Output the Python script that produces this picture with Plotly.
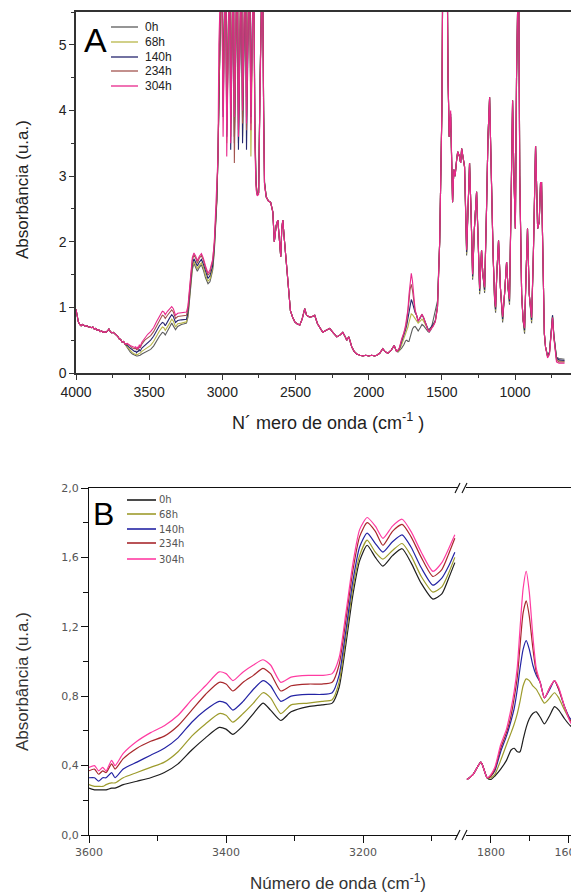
import plotly.graph_objects as go

# ---------------- DATA ----------------
series_labels = ["0h", "68h", "140h", "234h", "304h"]

# Region 1 (4000-3665 cm-1): all series coincide
wn_r1 = [4000, 3992, 3984, 3975, 3965, 3955, 3945, 3935, 3925, 3915, 3905, 3895, 3885, 3875, 3865,
         3855, 3845, 3835, 3825, 3815, 3805, 3795, 3785, 3775, 3765, 3755, 3745, 3735, 3725, 3715,
         3705, 3695, 3685, 3675, 3665]
abs_r1 = [0.97, 0.86, 0.78, 0.74, 0.72, 0.74, 0.72, 0.71, 0.72, 0.70, 0.70, 0.69, 0.70, 0.67, 0.68,
          0.65, 0.66, 0.63, 0.64, 0.62, 0.63, 0.62, 0.64, 0.67, 0.63, 0.61, 0.62, 0.60, 0.58, 0.56,
          0.52, 0.51, 0.47, 0.48, 0.44]

# Region 2 (3650-3038 cm-1)
wn_r2 = [3650, 3630, 3615, 3600, 3592, 3586, 3580, 3575, 3567, 3562, 3550, 3530, 3510, 3490, 3470,
         3450, 3430, 3410, 3400, 3390, 3375, 3360, 3346, 3335, 3320, 3305, 3280, 3260, 3245, 3235,
         3225, 3215, 3205, 3194, 3182, 3171, 3157, 3143, 3130, 3115, 3098, 3085, 3075, 3066, 3055,
         3045, 3038]
abs_r2_0h = [0.38, 0.32, 0.29, 0.27, 0.26, 0.26, 0.26, 0.26, 0.27, 0.27, 0.29, 0.31, 0.33, 0.36, 0.41,
             0.49, 0.56, 0.62, 0.61, 0.58, 0.63, 0.70, 0.76, 0.72, 0.66, 0.71, 0.74, 0.75, 0.76, 0.85,
             1.10, 1.38, 1.58, 1.67, 1.60, 1.55, 1.61, 1.65, 1.57, 1.45, 1.36, 1.39, 1.48, 1.57, 1.85,
             2.35, 2.60]
abs_r2_68h = [0.40, 0.34, 0.31, 0.29, 0.28, 0.28, 0.28, 0.29, 0.30, 0.30, 0.33, 0.36, 0.39, 0.42, 0.48,
              0.57, 0.64, 0.70, 0.69, 0.65, 0.70, 0.76, 0.82, 0.79, 0.70, 0.75, 0.76, 0.77, 0.78, 0.88,
              1.14, 1.42, 1.61, 1.70, 1.63, 1.59, 1.64, 1.68, 1.61, 1.49, 1.40, 1.43, 1.51, 1.60, 1.88,
              2.38, 2.62]
abs_r2_140h = [0.42, 0.38, 0.35, 0.33, 0.33, 0.31, 0.33, 0.33, 0.36, 0.33, 0.38, 0.42, 0.46, 0.50, 0.56,
               0.65, 0.72, 0.77, 0.76, 0.72, 0.77, 0.84, 0.89, 0.86, 0.77, 0.80, 0.81, 0.81, 0.82, 0.92,
               1.18, 1.46, 1.66, 1.74, 1.68, 1.63, 1.69, 1.73, 1.66, 1.54, 1.44, 1.48, 1.55, 1.63, 1.92,
               2.40, 2.64]
abs_r2_234h = [0.44, 0.41, 0.38, 0.37, 0.38, 0.35, 0.37, 0.36, 0.41, 0.38, 0.44, 0.50, 0.54, 0.57, 0.63,
               0.72, 0.81, 0.88, 0.87, 0.83, 0.88, 0.92, 0.96, 0.93, 0.83, 0.86, 0.87, 0.87, 0.88, 0.98,
               1.24, 1.52, 1.72, 1.80, 1.75, 1.67, 1.75, 1.79, 1.72, 1.60, 1.49, 1.53, 1.62, 1.71, 1.98,
               2.45, 2.66]
abs_r2_304h = [0.45, 0.42, 0.40, 0.39, 0.40, 0.37, 0.39, 0.37, 0.43, 0.40, 0.47, 0.54, 0.59, 0.63, 0.69,
               0.78, 0.86, 0.94, 0.93, 0.89, 0.94, 0.98, 1.01, 0.98, 0.88, 0.91, 0.92, 0.92, 0.93, 1.02,
               1.28, 1.56, 1.76, 1.83, 1.78, 1.71, 1.78, 1.82, 1.75, 1.63, 1.52, 1.57, 1.65, 1.73, 2.00,
               2.47, 2.68]

# Region 3 (3030-2712 cm-1): saturated C-H band (values above 5.5 run off the top)
wn_r3 = [3030, 3024, 3018, 3005, 2995, 2988, 2978, 2970, 2962, 2950, 2943, 2936, 2925, 2918, 2910,
         2898, 2890, 2882, 2870, 2862, 2855, 2842, 2835, 2828, 2815, 2805, 2798, 2786, 2778, 2770,
         2762, 2752, 2742, 2736, 2726, 2718, 2712]
abs_r3_0h = [3.3, 5.0, 6.5, 6.5, 4.6, 6.5, 6.5, 3.7, 6.5, 6.5, 3.8, 6.5, 6.5, 3.6, 6.5,
             6.5, 3.5, 6.5, 6.5, 3.9, 6.5, 6.5, 4.2, 6.5, 6.5, 4.0, 6.5, 6.5, 3.8, 2.9,
             2.72, 2.75, 4.5, 6.5, 6.5, 4.0, 2.9]
abs_r3_68h = [3.3, 5.0, 6.5, 6.5, 4.0, 6.5, 6.5, 3.5, 6.5, 6.5, 3.9, 6.5, 6.5, 3.7, 6.5,
              6.5, 3.8, 6.5, 6.5, 3.6, 6.5, 6.5, 3.9, 6.5, 6.5, 3.3, 6.5, 6.5, 3.6, 2.9,
              2.72, 2.75, 4.5, 6.5, 6.5, 4.0, 2.9]
abs_r3_140h = [3.3, 5.0, 6.5, 6.5, 3.9, 6.5, 6.5, 3.6, 6.5, 6.5, 3.4, 6.5, 6.5, 3.5, 6.5,
               6.5, 3.4, 6.5, 6.5, 3.5, 6.5, 6.5, 3.4, 6.5, 6.5, 3.9, 6.5, 6.5, 3.7, 2.9,
               2.72, 2.75, 4.5, 6.5, 6.5, 4.0, 2.9]
abs_r3_234h = [3.3, 5.0, 6.5, 6.5, 4.2, 6.5, 6.5, 3.9, 6.5, 6.5, 3.6, 6.5, 6.5, 3.2, 6.5,
               6.5, 3.7, 6.5, 6.5, 3.8, 6.5, 6.5, 3.7, 6.5, 6.5, 3.8, 6.5, 6.5, 3.9, 2.9,
               2.72, 2.75, 4.5, 6.5, 6.5, 4.0, 2.9]
abs_r3_304h = [3.3, 5.0, 6.5, 6.5, 3.6, 6.5, 6.5, 3.3, 6.5, 6.5, 3.5, 6.5, 6.5, 3.9, 6.5,
               6.5, 3.6, 6.5, 6.5, 4.0, 6.5, 6.5, 3.8, 6.5, 6.5, 3.7, 6.5, 6.5, 3.5, 2.8,
               2.70, 2.72, 4.3, 6.5, 6.5, 3.8, 2.85]

# Region 4 (2700-1810 cm-1): all series coincide
wn_r4 = [2700, 2685, 2670, 2655, 2645, 2632, 2621, 2610, 2601, 2594, 2587, 2575, 2560, 2545, 2535,
         2520, 2505, 2490, 2471, 2455, 2437, 2425, 2403, 2385, 2369, 2350, 2330, 2314, 2290, 2266,
         2245, 2218, 2195, 2177, 2160, 2150, 2136, 2125, 2116, 2100, 2082, 2060, 2040, 2020, 2000,
         1980, 1960, 1945, 1925, 1904, 1890, 1870, 1862, 1846, 1826, 1810]
abs_r4 = [2.68, 2.62, 2.60, 2.45, 2.00, 2.25, 2.33, 2.00, 1.77, 2.20, 2.33, 2.00, 1.55, 1.15, 0.95,
          0.85, 0.78, 0.75, 0.73, 0.82, 0.98, 0.88, 0.85, 0.86, 0.88, 0.75, 0.68, 0.62, 0.65, 0.68,
          0.62, 0.55, 0.58, 0.62, 0.55, 0.50, 0.55, 0.45, 0.40, 0.33, 0.29, 0.27, 0.26, 0.27, 0.26,
          0.27, 0.26, 0.27, 0.30, 0.37, 0.33, 0.30, 0.32, 0.35, 0.42, 0.33]

# Region 5 (1800-1515 cm-1): carbonyl band grows with time
wn_r5 = [1800, 1790, 1775, 1760, 1748, 1740, 1732, 1725, 1717, 1709, 1701, 1692, 1683, 1673, 1662,
         1648, 1636, 1625, 1610, 1595, 1587, 1575, 1560, 1545, 1530, 1515]
abs_r5_0h = [0.32, 0.34, 0.38, 0.43, 0.49, 0.50, 0.48, 0.48, 0.55, 0.62, 0.67, 0.70, 0.71, 0.68, 0.64,
             0.69, 0.74, 0.72, 0.67, 0.63, 0.62, 0.66, 0.80, 0.95, 1.10, 2.00]
abs_r5_68h = [0.33, 0.35, 0.43, 0.52, 0.59, 0.64, 0.70, 0.77, 0.86, 0.90, 0.89, 0.86, 0.84, 0.80, 0.76,
              0.79, 0.82, 0.79, 0.72, 0.66, 0.65, 0.68, 0.72, 0.78, 1.00, 2.00]
abs_r5_140h = [0.34, 0.37, 0.48, 0.57, 0.66, 0.73, 0.84, 0.96, 1.07, 1.12, 1.07, 0.98, 0.92, 0.88, 0.79,
               0.84, 0.89, 0.84, 0.74, 0.67, 0.66, 0.69, 0.74, 0.80, 1.02, 2.00]
abs_r5_234h = [0.34, 0.38, 0.50, 0.59, 0.69, 0.79, 0.91, 1.09, 1.28, 1.35, 1.26, 1.08, 0.94, 0.88, 0.79,
               0.85, 0.89, 0.84, 0.74, 0.66, 0.65, 0.68, 0.72, 0.79, 1.00, 2.00]
abs_r5_304h = [0.35, 0.39, 0.52, 0.61, 0.73, 0.83, 0.97, 1.19, 1.42, 1.52, 1.40, 1.15, 0.96, 0.88, 0.79,
               0.85, 0.89, 0.85, 0.74, 0.65, 0.63, 0.66, 0.71, 0.78, 1.00, 2.00]

# Region 6 (1500-662 cm-1): fingerprint region
wn_r6 = [1500, 1493, 1465, 1458, 1450, 1440, 1432, 1427, 1418, 1410, 1399, 1392, 1380, 1372, 1365,
         1355, 1345, 1331, 1320, 1311, 1300, 1290, 1278, 1263, 1252, 1242, 1235, 1229, 1220, 1208,
         1195, 1185, 1174, 1163, 1150, 1140, 1133, 1125, 1113, 1100, 1085, 1072, 1058, 1048, 1038,
         1028, 1017, 1008, 998, 990, 983, 976, 968, 955, 945, 935, 925, 915, 903, 887,
         875, 860, 852, 846, 835, 826, 819, 810, 800, 792, 778, 765, 752, 744, 735,
         725, 717, 700, 680, 662]
abs_r6_0h = [4.0, 6.5, 6.5, 4.5, 3.6, 3.9, 3.3, 2.6, 3.1, 3.0, 3.25, 3.37, 3.3, 3.2, 3.42,
             3.3, 3.14, 1.79, 2.6, 3.2, 2.4, 1.42, 2.2, 2.76, 2.0, 1.20, 1.6, 1.87, 1.5, 1.22,
             2.5, 3.6, 4.2, 3.0, 1.8, 1.1, 0.92, 1.5, 2.02, 1.3, 0.77, 1.2, 1.69, 1.3, 1.04,
             2.5, 4.15, 3.0, 2.2, 4.5, 6.5, 6.5, 3.0, 1.2, 0.8, 0.60, 1.5, 2.2, 1.2, 0.76,
             1.8, 3.46, 2.8, 2.2, 2.3, 2.9, 2.9, 1.5, 0.6, 0.40, 0.26, 0.32, 0.68, 0.88, 0.58,
             0.32, 0.24, 0.22, 0.21, 0.21]
abs_r6_68h = [4.0, 6.5, 6.5, 4.5, 3.6, 3.9, 3.3, 2.6, 3.1, 3.0, 3.25, 3.37, 3.3, 3.2, 3.42,
              3.3, 3.14, 1.82, 2.6, 3.2, 2.4, 1.45, 2.2, 2.76, 2.0, 1.23, 1.6, 1.87, 1.5, 1.25,
              2.5, 3.6, 4.2, 3.0, 1.8, 1.12, 0.95, 1.5, 2.02, 1.3, 0.80, 1.2, 1.69, 1.3, 1.07,
              2.5, 4.15, 3.0, 2.2, 4.5, 6.5, 6.5, 3.0, 1.2, 0.8, 0.63, 1.5, 2.2, 1.2, 0.79,
              1.8, 3.46, 2.8, 2.2, 2.3, 2.9, 2.9, 1.5, 0.6, 0.40, 0.25, 0.31, 0.66, 0.85, 0.56,
              0.31, 0.22, 0.19, 0.18, 0.18]
abs_r6_140h = [4.0, 6.5, 6.5, 4.5, 3.6, 3.95, 3.3, 2.6, 3.1, 3.0, 3.25, 3.37, 3.3, 3.2, 3.42,
               3.3, 3.14, 1.84, 2.6, 3.2, 2.4, 1.47, 2.2, 2.76, 2.0, 1.25, 1.6, 1.87, 1.5, 1.27,
               2.5, 3.6, 4.2, 3.0, 1.8, 1.13, 0.97, 1.5, 2.02, 1.3, 0.82, 1.2, 1.69, 1.3, 1.09,
               2.5, 4.15, 3.0, 2.2, 4.5, 6.5, 6.5, 3.0, 1.2, 0.8, 0.65, 1.5, 2.2, 1.2, 0.81,
               1.8, 3.46, 2.8, 2.2, 2.3, 2.9, 2.9, 1.5, 0.6, 0.40, 0.26, 0.31, 0.67, 0.88, 0.57,
               0.31, 0.23, 0.20, 0.19, 0.19]
abs_r6_234h = [4.0, 6.5, 6.5, 4.5, 3.6, 3.95, 3.3, 2.6, 3.1, 3.0, 3.25, 3.37, 3.3, 3.2, 3.42,
               3.3, 3.14, 1.87, 2.6, 3.2, 2.4, 1.50, 2.2, 2.76, 2.0, 1.28, 1.6, 1.87, 1.5, 1.30,
               2.5, 3.6, 4.2, 3.0, 1.8, 1.15, 1.00, 1.5, 2.02, 1.3, 0.85, 1.2, 1.69, 1.3, 1.12,
               2.5, 4.15, 3.0, 2.2, 4.5, 6.5, 6.5, 3.0, 1.2, 0.8, 0.68, 1.5, 2.2, 1.2, 0.84,
               1.8, 3.46, 2.8, 2.2, 2.3, 2.9, 2.9, 1.5, 0.6, 0.40, 0.25, 0.30, 0.65, 0.85, 0.55,
               0.30, 0.20, 0.17, 0.17, 0.17]
abs_r6_304h = [4.0, 6.5, 6.5, 4.5, 3.6, 4.0, 3.3, 2.6, 3.1, 3.0, 3.25, 3.37, 3.3, 3.2, 3.42,
               3.3, 3.14, 1.88, 2.6, 3.2, 2.4, 1.51, 2.2, 2.76, 2.0, 1.29, 1.6, 1.87, 1.5, 1.31,
               2.5, 3.6, 4.2, 3.0, 1.8, 1.15, 1.01, 1.5, 2.02, 1.3, 0.86, 1.2, 1.69, 1.3, 1.13,
               2.5, 4.15, 3.0, 2.2, 4.5, 6.5, 6.5, 3.0, 1.2, 0.8, 0.69, 1.5, 2.2, 1.2, 0.85,
               1.8, 3.46, 2.8, 2.2, 2.3, 2.9, 2.9, 1.5, 0.6, 0.40, 0.23, 0.28, 0.63, 0.84, 0.54,
               0.28, 0.17, 0.15, 0.15, 0.15]

# Axis ticks
a_xtick_vals = [4000, 3500, 3000, 2500, 2000, 1500, 1000]
a_xtick_text = ["4000", "3500", "3000", "2500", "2000", "1500", "1000"]
a_xminor_vals = [3750, 3250, 2750, 2250, 1750, 1250, 750]
a_ytick_vals = [0, 1, 2, 3, 4, 5]
a_ytick_text = ["0", "1", "2", "3", "4", "5"]
a_yminor_vals = [0.5, 1.5, 2.5, 3.5, 4.5, 5.5]

b_x1tick_vals = [3600, 3400, 3200]
b_x1tick_text = ["3600", "3400", "3200"]
b_x1minor_vals = [3500, 3300, 3100]
b_x2tick_vals = [1800, 1600]
b_x2tick_text = ["1800", "1600"]
b_x2minor_vals = [1700]
b_ytick_vals = [0.0, 0.4, 0.8, 1.2, 1.6, 2.0]
b_ytick_text = ["0,0", "0,4", "0,8", "1,2", "1,6", "2,0"]
b_yminor_vals = [0.2, 0.6, 1.0, 1.4, 1.8]

# ---------------- BUILD ----------------
# The page body keeps an 8 px margin, so the figure is sized to the visible area
# and every window position below is converted into figure-paper coordinates.
OFF = 8
W, H = 579 - OFF, 894 - OFF
def px(x): return (x - OFF) / W
def py(y): return 1 - (y - OFF) / H

r2 = {"0h": abs_r2_0h, "68h": abs_r2_68h, "140h": abs_r2_140h, "234h": abs_r2_234h, "304h": abs_r2_304h}
r3 = {"0h": abs_r3_0h, "68h": abs_r3_68h, "140h": abs_r3_140h, "234h": abs_r3_234h, "304h": abs_r3_304h}
r5 = {"0h": abs_r5_0h, "68h": abs_r5_68h, "140h": abs_r5_140h, "234h": abs_r5_234h, "304h": abs_r5_304h}
r6 = {"0h": abs_r6_0h, "68h": abs_r6_68h, "140h": abs_r6_140h, "234h": abs_r6_234h, "304h": abs_r6_304h}

wn_A = wn_r1 + wn_r2 + wn_r3 + wn_r4 + wn_r5 + wn_r6
spectra = {lab: abs_r1 + r2[lab] + r3[lab] + abs_r4 + r5[lab] + r6[lab] for lab in series_labels}

colors_A = {"0h": "#5c5c5c", "68h": "#b8b64a", "140h": "#26266e", "234h": "#a2544f", "304h": "#e8288c"}
colors_B = {"0h": "#1e1e1e", "68h": "#9d9b2c", "140h": "#2424a4", "234h": "#a8282c", "304h": "#ff3ca2"}

fig = go.Figure()

for lab in series_labels:
    fig.add_trace(go.Scatter(x=wn_A, y=spectra[lab], mode="lines", name=lab,
                             line=dict(color=colors_A[lab], width=1.1),
                             xaxis="x", yaxis="y", showlegend=False))

for lab in series_labels:
    seg1 = [(w, a) for w, a in zip(wn_A, spectra[lab]) if 3064 <= w <= 3600]
    seg2 = [(w, a) for w, a in zip(wn_A, spectra[lab]) if 1555 <= w <= 1862]
    fig.add_trace(go.Scatter(x=[p[0] for p in seg1], y=[p[1] for p in seg1], mode="lines", name=lab,
                             line=dict(color=colors_B[lab], width=1.2, shape="spline", smoothing=0.6),
                             xaxis="x2", yaxis="y2", showlegend=False))
    fig.add_trace(go.Scatter(x=[p[0] for p in seg2], y=[p[1] for p in seg2], mode="lines", name=lab,
                             line=dict(color=colors_B[lab], width=1.2, shape="spline", smoothing=0.6),
                             xaxis="x3", yaxis="y2", showlegend=False))

axA = dict(showgrid=False, zeroline=False, showline=True, linecolor="#333", linewidth=1.5,
           mirror=True, ticks="outside", ticklen=5, tickwidth=1.3, tickcolor="#333", automargin=False,
           tickfont=dict(family="Liberation Sans, Arial", size=14, color="#222"))
axB = dict(showgrid=False, zeroline=False, showline=True, linecolor="#111", linewidth=1.1,
           ticks="outside", ticklen=7, tickwidth=1.1, tickcolor="#111", automargin=False,
           ticklabeloverflow="allow",
           tickfont=dict(family="DejaVu Sans", size=11, color="#555"))

fig.update_layout(
    width=W, height=H, margin=dict(l=0, r=0, t=0, b=0, pad=0, autoexpand=False),
    paper_bgcolor="white", plot_bgcolor="white", showlegend=False,
    xaxis=dict(axA, domain=[px(76), px(578)], range=[4000, 570], anchor="y",
               tickmode="array", tickvals=a_xtick_vals, ticktext=a_xtick_text,
               minor=dict(tickmode="array", tickvals=a_xminor_vals, ticks="outside", ticklen=3, tickcolor="#333")),
    yaxis=dict(axA, domain=[py(373), py(12)], range=[0, 5.5], anchor="x",
               tickmode="array", tickvals=a_ytick_vals, ticktext=a_ytick_text,
               minor=dict(tickmode="array", tickvals=a_yminor_vals, ticks="outside", ticklen=3, tickcolor="#333")),
    xaxis2=dict(axB, domain=[px(89), px(461)], range=[3600, 3057], anchor="y2", mirror=True,
                tickmode="array", tickvals=b_x1tick_vals, ticktext=b_x1tick_text,
                minor=dict(tickmode="array", tickvals=b_x1minor_vals, ticks="outside", ticklen=5, tickcolor="#111")),
    xaxis3=dict(axB, domain=[px(461), 1.0], range=[1877.5, 1572.6], anchor="y2", mirror=True,
                tickmode="array", tickvals=b_x2tick_vals, ticktext=b_x2tick_text,
                minor=dict(tickmode="array", tickvals=b_x2minor_vals, ticks="outside", ticklen=5, tickcolor="#111")),
    yaxis2=dict(axB, domain=[py(835), py(488)], range=[0, 2.0], anchor="x2",
                tickmode="array", tickvals=b_ytick_vals, ticktext=b_ytick_text,
                minor=dict(tickmode="array", tickvals=b_yminor_vals, ticks="outside", ticklen=5, tickcolor="#111")),
)

annotations = [
    dict(text="A", x=px(95), y=py(40), font=dict(family="Liberation Sans, Arial", size=34, color="#000")),
    dict(text="B", x=px(103), y=py(514), font=dict(family="Liberation Sans, Arial", size=32, color="#000")),
    dict(text="Absorbância (u.a.)", x=px(22), y=py(190), textangle=-90,
         font=dict(family="Liberation Sans, Arial", size=17, color="#222")),
    dict(text="N´ mero de onda (cm<sup>-1</sup> )", x=px(328), y=py(422),
         font=dict(family="Liberation Sans, Arial", size=18, color="#222")),
    dict(text="Absorbância (u.a.)", x=px(22), y=py(682), textangle=-90,
         font=dict(family="Liberation Sans, Arial", size=17, color="#333")),
    dict(text="Número de onda (cm<sup>-1</sup>)", x=px(338), y=py(882),
         font=dict(family="Liberation Sans, Arial", size=17, color="#333")),
]

shapes = []
# manual legends (tight 15 px row spacing as in the reference)
legA_rows = [27, 42, 57, 71, 86]
legB_rows = [500, 514, 529, 543, 559]
for lab, ya, yb in zip(series_labels, legA_rows, legB_rows):
    shapes.append(dict(type="line", xref="paper", yref="paper", x0=px(111), x1=px(138), y0=py(ya), y1=py(ya),
                       line=dict(color=colors_A[lab], width=1.3)))
    annotations.append(dict(text=lab, x=px(143), y=py(ya), xanchor="left",
                            font=dict(family="Liberation Sans, Arial", size=12, color="#222")))
    shapes.append(dict(type="line", xref="paper", yref="paper", x0=px(127), x1=px(156), y0=py(yb), y1=py(yb),
                       line=dict(color=colors_B[lab], width=1.6)))
    annotations.append(dict(text=lab, x=px(157), y=py(yb), xanchor="left",
                            font=dict(family="DejaVu Sans", size=10, color="#555")))

for a in annotations:
    a.setdefault("xanchor", "center")
    a.update(xref="paper", yref="paper", showarrow=False, yanchor="middle")
fig.update_layout(annotations=annotations)

# axis-break marks
for yb in (488, 835):
    shapes.append(dict(type="rect", xref="paper", yref="paper", x0=px(458), x1=px(466),
                       y0=py(yb + 1.5), y1=py(yb - 1.5), fillcolor="white", line=dict(width=0), layer="above"))
    for xb in (455, 462):
        shapes.append(dict(type="line", xref="paper", yref="paper", x0=px(xb), y0=py(yb + 5),
                           x1=px(xb + 5), y1=py(yb - 5), line=dict(color="#111", width=1.1), layer="above"))
fig.update_layout(shapes=shapes)

fig.write_html("out.html")
